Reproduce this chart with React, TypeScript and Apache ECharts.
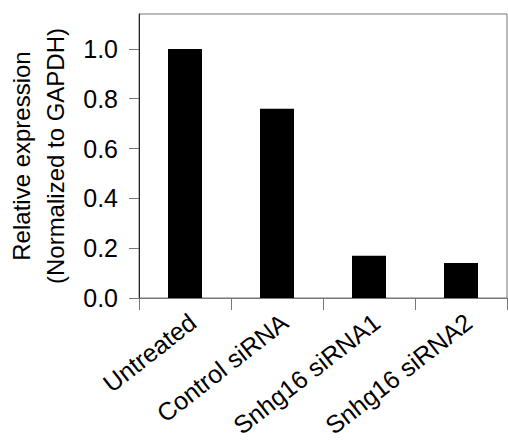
import React, { useEffect, useRef } from "react";
import * as echarts from "echarts";

const categories = ["Untreated", "Control siRNA", "Snhg16 siRNA1", "Snhg16 siRNA2"];
const values = [1.0, 0.76, 0.17, 0.14];
const yTicks = [0, 0.2, 0.4, 0.6, 0.8, 1.0];
const yTitle = "Relative expression\n(Normalized to GAPDH)";

const FONT = "'Liberation Sans', Arial, sans-serif";

export default function App() {
  const ref = useRef<HTMLDivElement>(null);
  useEffect(() => {
    document.body.style.margin = "0";
    document.body.style.overflow = "hidden";
    if (!ref.current) return;
    const chart = echarts.init(ref.current, null, { renderer: "svg" });
    chart.setOption({
      animation: false,
      backgroundColor: "#ffffff",
      grid: {
        left: 139,
        right: 1,
        top: 14,
        bottom: 143,
        show: true,
        borderColor: "#777777",
        borderWidth: 1,
        containLabel: false,
        outerBoundsMode: "none",
      },
      xAxis: {
        type: "category",
        data: categories,
        boundaryGap: true,
        axisLine: { show: true, lineStyle: { color: "#777777", width: 1 } },
        axisTick: { show: true, length: 12, interval: 0, lineStyle: { color: "#777777", width: 1 } },
        axisLabel: {
          interval: 0,
          rotate: 38,
          margin: 11,
          verticalAlign: "top",
          fontSize: 25,
          color: "#000000",
          fontFamily: FONT,
        },
      },
      yAxis: {
        type: "value",
        min: 0,
        max: 1.14,
        interval: 0.2,
        splitLine: { show: false },
        axisLine: { show: true, lineStyle: { color: "#222222", width: 1 } },
        axisTick: { show: true, length: 10, customValues: yTicks, lineStyle: { color: "#777777", width: 1 } },
        axisLabel: {
          margin: 21,
          fontSize: 25,
          color: "#000000",
          fontFamily: FONT,
          customValues: yTicks,
          formatter: (v: number) => v.toFixed(1),
        },
        name: yTitle,
        nameLocation: "middle",
        nameGap: 64,
        nameTextStyle: {
          fontSize: 24,
          color: "#000000",
          fontFamily: FONT,
          lineHeight: 34,
        },
      },
      series: [
        {
          type: "bar",
          data: values,
          barWidth: 34,
          itemStyle: { color: "#000000" },
        },
      ],
    });
    return () => chart.dispose();
  }, []);
  return (
    <div
      ref={ref}
      style={{ position: "absolute", left: 0, top: 0, width: 508, height: 441 }}
    />
  );
}
